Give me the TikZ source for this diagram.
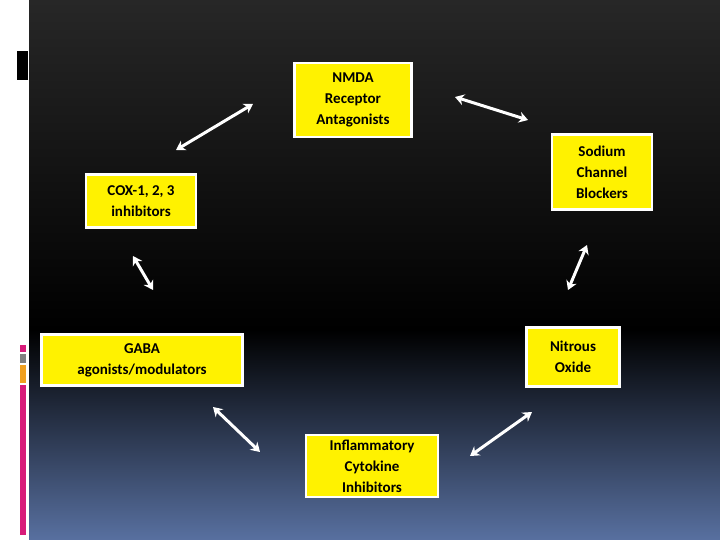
\documentclass[tikz,border=0pt]{standalone}
\usepackage{fontspec}
\setmainfont{Carlito}
\usetikzlibrary{arrows.meta}
\definecolor{topg}{HTML}{272727}
\definecolor{botb}{HTML}{5870A0}
\definecolor{mag}{HTML}{D81B7A}
\definecolor{orng}{HTML}{F0A020}
\begin{document}
\begin{tikzpicture}[x=1pt,y=-1pt,
  box/.style={draw=white,line width=2.5pt,fill=yellow,align=center,font=\bfseries\fontsize{15}{21}\selectfont,inner sep=0pt},
  arr/.style={white,line width=3pt,{Stealth[length=9pt,width=11pt]}-{Stealth[length=9pt,width=11pt]}}]
\useasboundingbox (0,0) rectangle (720,540);
\fill[white] (0,0) rectangle (720,540);
\shade[top color=topg,bottom color=black] (29,0) rectangle (720,330);
\shade[top color=black,bottom color=botb] (29,330) rectangle (720,540);
\fill[black] (17,51) rectangle (28,80);
\fill[mag] (20,345) rectangle (26,352);
\fill[gray] (20,354) rectangle (26,363);
\fill[orng] (20,365) rectangle (26,383);
\fill[mag] (20,385) rectangle (26,535);
\node[box,minimum width=117pt,minimum height=74pt] (nmda) at (353,100) {NMDA\\Receptor\\Antagonists};
\node[box,minimum width=100pt,minimum height=75pt] (sod) at (602,172) {Sodium\\Channel\\Blockers};
\node[box,minimum width=110pt,minimum height=53pt] (cox) at (141,201) {COX-1, 2, 3\\inhibitors};
\node[box,minimum width=201pt,minimum height=51pt] (gaba) at (142,360) {GABA\\agonists/modulators};
\node[box,minimum width=93pt,minimum height=59pt] (nit) at (573,357) {Nitrous\\Oxide};
\node[box,minimum width=132pt,minimum height=62pt] (inf) at (372,466) {Inflammatory\\Cytokine\\Inhibitors};
\coordinate (a1) at (176,150); \coordinate (b1) at (253,104);
\coordinate (a2) at (455,97); \coordinate (b2) at (528,120);
\coordinate (a3) at (133,256); \coordinate (b3) at (153,290);
\coordinate (a4) at (587,245); \coordinate (b4) at (568,290);
\coordinate (a5) at (213,407); \coordinate (b5) at (260,452);
\coordinate (a6) at (470,456); \coordinate (b6) at (532,412);
\foreach \i in {1,...,6} \draw[arr] (a\i) -- (b\i);
\end{tikzpicture}
\end{document}
